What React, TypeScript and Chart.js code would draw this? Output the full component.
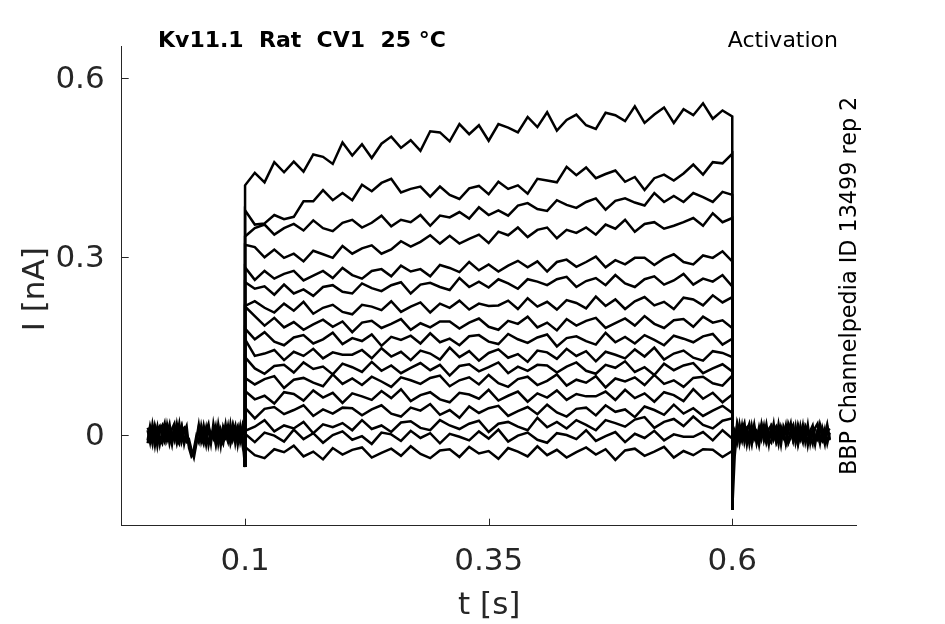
import { useRef, useEffect } from "react";
import { Chart, registerables } from "chart.js";

Chart.register(...registerables);

// Axis ticks
const xTicks = [0.1, 0.35, 0.6];
const yTicks = [0, 0.3, 0.6];

// Sample times (s)
const preTimes = [
  0, 0.0025, 0.005, 0.0075, 0.01, 0.0125, 0.015, 0.0175, 0.02, 0.0225, 0.025, 0.0275, 0.03, 0.0325,
  0.035, 0.0375, 0.04, 0.0425, 0.045, 0.0475, 0.05, 0.0525, 0.055, 0.0575, 0.06, 0.0625, 0.065,
  0.0675, 0.07, 0.0725, 0.075, 0.0775, 0.08, 0.0825, 0.085, 0.0875, 0.09, 0.0925, 0.095, 0.0975, 0.1,
];
const stepTimes = [
  0.1, 0.11, 0.12, 0.13, 0.14, 0.15, 0.16, 0.17, 0.18, 0.19, 0.2, 0.21, 0.22, 0.23, 0.24, 0.25, 0.26,
  0.27, 0.28, 0.29, 0.3, 0.31, 0.32, 0.33, 0.34, 0.35, 0.36, 0.37, 0.38, 0.39, 0.4, 0.41, 0.42, 0.43,
  0.44, 0.45, 0.46, 0.47, 0.48, 0.49, 0.5, 0.51, 0.52, 0.53, 0.54, 0.55, 0.56, 0.57, 0.58, 0.59, 0.6,
];
const postTimes = [
  0.6, 0.6025, 0.605, 0.6075, 0.61, 0.6125, 0.615, 0.6175, 0.62, 0.6225, 0.625, 0.6275, 0.63, 0.6325,
  0.635, 0.6375, 0.64, 0.6425, 0.645, 0.6475, 0.65, 0.6525, 0.655, 0.6575, 0.66, 0.6625, 0.665,
  0.6675, 0.67, 0.6725, 0.675, 0.6775, 0.68, 0.6825, 0.685, 0.6875, 0.69, 0.6925, 0.695, 0.6975, 0.7,
];

// Currents in pA
const onsetDip = -54;
const offsetDip = -126;

const pre1 = [8, -12, 18, -5, 14, -15, 6, 20, -9, 3, -16, 12, -3, 19, -11, 5, 15, -22, -36, -30, -12, 9, -6, 16, -6, 11, -14, 19, -3, 8, -18, 14, 2, -11, 18, -8, 5, 15, -12, 6, 0];
const pre2 = [-9, 15, -3, 10, -18, 8, 16, -6, 12, -14, 4, -9, 18, -5, 13, -15, 3, -18, -30, -24, -2, -12, 15, -8, 12, -17, 3, -6, 14, -15, 9, -5, 18, -9, -2, 15, -14, 8, -5, 17, 0];
const pre3 = [12, 3, -15, 16, 0, -6, -14, 9, 2, 18, -8, 6, -14, 4, 16, -6, -12, -8, -25, -38, -15, 13, -3, -15, 5, 18, -9, 8, -16, 12, 2, -11, -6, 15, -14, 3, 16, -16, 10, -9, -54];
const pre4 = [-14, 6, 11, -17, 9, 15, -3, -12, 17, -5, 10, 19, -8, -15, 7, 12, -4, -14, -32, -26, -8, 17, -11, 6, -16, 14, -2, 10, -13, 18, -6, -15, 11, 4, -12, 16, -3, -9, 14, -17, 0];

const post1 = [-126, -35, 10, -8, 16, -12, 7, 19, -5, 12, -14, 4, 17, -9, 8, -16, 13, 2, -11, 18, -6, 10, -15, 6, 20, -8, 3, -13, 15, -4, 11, -17, 7, 16, -10, 5, -14, 12, -3, 17, -7];
const post2 = [-60, -18, 20, 4, -10, 14, -16, 6, -2, 18, -9, 13, -6, 15, -12, 5, -3, 19, -10, 8, -16, 14, 3, -11, 9, 17, -13, 5, -7, 16, -12, 8, -2, -15, 12, 19, -6, -11, 9, -14, 4];
const post3 = [-20, 5, -12, 18, -4, 9, 13, -14, 15, -7, 3, -17, 10, -2, 18, -8, -13, 7, 14, -5, 11, -3, 16, -14, -4, 10, -9, 17, 2, -12, 15, 6, -9, 4, -16, 9, 13, -5, -12, 6, 11];
const post4 = [-90, -10, 15, -14, 8, 20, -11, 3, -16, 12, 7, -9, 18, -4, -13, 10, 16, -7, 5, -15, 13, -1, -12, 19, 7, -10, 14, -16, 4, 9, -6, 17, -13, 11, -2, -8, 18, 3, -15, 13, -9];

const trace01 = [420, 441, 425, 459, 442, 460, 443, 472, 468, 456, 492, 470, 489, 466, 490, 502, 483, 496, 478, 511, 509, 494, 523, 506, 521, 495, 523, 517, 509, 535, 518, 543, 512, 530, 539, 521, 515, 542, 538, 528, 553, 525, 539, 551, 525, 548, 538, 558, 532, 546, 536];
const trace02 = [378, 354, 356, 370, 363, 367, 393, 393, 412, 395, 407, 395, 421, 410, 424, 431, 408, 414, 418, 401, 418, 404, 397, 415, 419, 405, 426, 414, 420, 406, 431, 428, 425, 451, 437, 450, 432, 439, 445, 426, 434, 412, 432, 438, 428, 440, 455, 438, 459, 457, 473];
const trace03 = [334, 348, 354, 337, 348, 355, 344, 361, 348, 343, 357, 362, 349, 357, 369, 351, 362, 358, 370, 352, 369, 366, 375, 364, 383, 370, 378, 369, 386, 390, 380, 377, 395, 387, 382, 392, 398, 379, 394, 398, 391, 386, 407, 392, 402, 392, 407, 400, 392, 409, 404];
const trace04 = [320, 316, 299, 312, 298, 305, 292, 310, 304, 298, 318, 305, 314, 319, 305, 312, 326, 317, 325, 336, 322, 335, 322, 330, 337, 323, 342, 336, 349, 333, 345, 349, 331, 345, 340, 349, 337, 354, 347, 362, 342, 355, 358, 347, 352, 358, 365, 352, 373, 358, 365];
const trace05 = [282, 261, 276, 263, 271, 276, 260, 268, 276, 264, 281, 269, 263, 276, 279, 267, 285, 275, 279, 267, 286, 281, 274, 291, 277, 287, 275, 285, 293, 282, 292, 275, 291, 295, 283, 291, 300, 282, 294, 287, 298, 298, 286, 297, 304, 291, 287, 302, 298, 309, 292];
const trace06 = [257, 246, 250, 236, 253, 238, 245, 234, 249, 252, 241, 238, 255, 247, 242, 252, 257, 238, 253, 256, 249, 244, 264, 249, 258, 248, 262, 255, 246, 262, 258, 252, 262, 266, 249, 259, 264, 252, 269, 255, 249, 262, 267, 253, 260, 271, 253, 263, 258, 269, 250];
const trace07 = [217, 225, 214, 206, 221, 209, 224, 204, 214, 219, 207, 203, 219, 216, 210, 225, 207, 216, 223, 206, 221, 214, 226, 211, 221, 217, 218, 226, 212, 230, 216, 224, 211, 227, 222, 213, 233, 217, 228, 212, 225, 232, 218, 224, 212, 231, 228, 218, 235, 223, 232];
const trace08 = [216, 200, 184, 197, 181, 190, 177, 186, 194, 182, 191, 173, 189, 192, 180, 187, 195, 177, 188, 181, 191, 191, 179, 189, 196, 182, 177, 192, 187, 199, 181, 189, 176, 195, 184, 192, 197, 180, 188, 196, 184, 200, 187, 180, 193, 195, 182, 199, 189, 193, 180];
const trace09 = [179, 161, 173, 157, 151, 164, 168, 154, 161, 172, 153, 163, 158, 169, 150, 165, 160, 167, 154, 171, 156, 162, 151, 166, 168, 157, 153, 170, 161, 155, 164, 169, 149, 163, 166, 158, 152, 172, 156, 165, 154, 168, 160, 151, 167, 162, 156, 166, 170, 152, 162];
const trace10 = [161, 133, 137, 143, 126, 140, 133, 145, 129, 139, 135, 135, 143, 129, 146, 132, 140, 126, 142, 137, 127, 147, 131, 141, 125, 138, 144, 130, 136, 123, 142, 139, 128, 145, 133, 141, 124, 140, 135, 129, 144, 132, 147, 127, 137, 142, 130, 125, 141, 138, 131];
const trace11 = [131, 112, 103, 116, 118, 105, 122, 111, 115, 102, 120, 114, 106, 123, 108, 117, 104, 113, 121, 109, 118, 100, 116, 119, 107, 114, 122, 104, 115, 108, 118, 117, 105, 115, 122, 108, 103, 118, 113, 124, 106, 114, 101, 120, 109, 117, 121, 104, 112, 119, 107];
const trace12 = [96, 85, 94, 99, 79, 93, 96, 88, 82, 102, 86, 95, 84, 98, 90, 81, 97, 92, 86, 96, 100, 82, 92, 97, 85, 101, 87, 81, 94, 98, 84, 91, 102, 83, 93, 88, 99, 80, 95, 90, 97, 84, 101, 86, 92, 81, 96, 98, 87, 83, 100];
const trace13 = [74, 60, 66, 53, 72, 69, 58, 75, 63, 71, 54, 70, 65, 59, 74, 62, 77, 57, 67, 72, 60, 55, 71, 68, 61, 76, 58, 66, 73, 56, 70, 63, 75, 59, 69, 65, 65, 73, 59, 76, 62, 70, 56, 72, 67, 57, 77, 61, 71, 55, 68];
const trace14 = [46, 28, 44, 47, 35, 42, 50, 32, 43, 36, 46, 45, 33, 43, 50, 36, 31, 46, 41, 52, 34, 42, 29, 48, 37, 45, 49, 32, 40, 47, 35, 51, 38, 31, 44, 46, 33, 50, 39, 43, 30, 48, 42, 34, 51, 36, 45, 32, 41, 49, 37];
const trace15 = [7, 14, 25, 6, 16, 11, 22, 3, 18, 13, 20, 8, 25, 10, 16, 5, 21, 23, 12, 8, 25, 16, 10, 19, 24, 5, 19, 22, 14, 8, 29, 13, 22, 11, 25, 17, 8, 25, 20, 14, 26, 30, 12, 22, 27, 15, 31, 17, 11, 24, 28];
const trace16 = [2, -12, 4, -1, -11, 9, -7, 3, -13, 0, 6, -8, -2, -15, 4, 1, -10, 7, -5, 3, -14, 2, -3, -9, 6, -6, 9, -11, -1, 4, -8, -13, 3, 0, -7, 8, -10, -2, 5, -12, 2, -5, 7, -9, 1, -3, -3, 5, -9, 8, -6];
const trace17 = [-20, -34, -39, -24, -29, -18, -36, -28, -41, -22, -33, -25, -21, -38, -30, -23, -35, -19, -32, -39, -26, -24, -37, -20, -31, -27, -40, -22, -28, -36, -19, -34, -25, -38, -29, -21, -33, -24, -42, -26, -23, -35, -28, -20, -38, -27, -34, -24, -25, -37, -27];

const steps = [
  trace01, trace02, trace03, trace04, trace05, trace06, trace07, trace08, trace09,
  trace10, trace11, trace12, trace13, trace14, trace15, trace16, trace17,
];
const preRuns = [pre1, pre2, pre3, pre4];
const postRuns = [post1, post2, post3, post4];

// Styles
const AXIS = "#262626";
const FONT = '"DejaVu Sans", sans-serif';

function toPoints(times: number[], values: number[]) {
  return times.map((t, i) => ({ x: t, y: values[i] / 1000 }));
}

const decor = {
  id: "decor",
  afterDraw(chart: Chart) {
    const { ctx, chartArea, scales } = chart;
    const x = scales.x;
    const y = scales.y;
    ctx.save();

    // Inward tick marks
    ctx.strokeStyle = AXIS;
    ctx.lineWidth = 1;
    ctx.beginPath();
    for (const v of xTicks) {
      const px = Math.round(x.getPixelForValue(v)) + 0.5;
      ctx.moveTo(px, chartArea.bottom);
      ctx.lineTo(px, chartArea.bottom - 7);
    }
    for (const v of yTicks) {
      const py = Math.round(y.getPixelForValue(v)) + 0.5;
      ctx.moveTo(chartArea.left, py);
      ctx.lineTo(chartArea.left + 7, py);
    }
    ctx.stroke();

    // Title and annotations
    ctx.fillStyle = "#000";
    ctx.textBaseline = "alphabetic";
    ctx.font = `bold 22px ${FONT}`;
    ctx.textAlign = "left";
    ctx.fillText("Kv11.1  Rat  CV1  25 °C", 158, 46.5);

    ctx.font = `22px ${FONT}`;
    ctx.textAlign = "right";
    ctx.fillText("Activation", 838, 46.5);

    ctx.save();
    ctx.translate(856, 475);
    ctx.rotate(-Math.PI / 2);
    ctx.textAlign = "left";
    ctx.font = `22.3px ${FONT}`;
    ctx.fillText("BBP Channelpedia ID 13499 rep 2", 0, 0);
    ctx.restore();

    // Axis titles
    ctx.fillStyle = AXIS;
    ctx.font = `31px ${FONT}`;
    ctx.textAlign = "center";
    ctx.fillText("t [s]", (chartArea.left + chartArea.right) / 2, 614);

    ctx.save();
    ctx.translate(44, (chartArea.top + chartArea.bottom) / 2 + 3);
    ctx.rotate(-Math.PI / 2);
    ctx.fillText("I [nA]", 0, 0);
    ctx.restore();

    ctx.restore();
  },
};

export default function App() {
  const canvasRef = useRef<HTMLCanvasElement | null>(null);
  const chartRef = useRef<Chart | null>(null);

  useEffect(() => {
    if (chartRef.current) {
      chartRef.current.destroy();
      chartRef.current = null;
    }
    const canvas = canvasRef.current;
    if (!canvas) return;

    const line = { borderColor: "#000", borderWidth: 2.5, pointRadius: 0, tension: 0, fill: false };
    const datasets = [
      ...preRuns.map((r) => ({ ...line, data: toPoints(preTimes, r) })),
      ...steps.map((s) => ({
        ...line,
        data: [
          { x: 0.1, y: onsetDip / 1000 },
          ...toPoints(stepTimes, s),
          { x: 0.6, y: offsetDip / 1000 },
        ],
      })),
      ...postRuns.map((r) => ({ ...line, data: toPoints(postTimes, r) })),
    ];

    chartRef.current = new Chart(canvas, {
      type: "line",
      data: { datasets },
      options: {
        animation: false,
        responsive: true,
        maintainAspectRatio: false,
        layout: { padding: { top: 46.7, right: 88.3, left: 0, bottom: 0 } },
        plugins: {
          legend: { display: false },
          tooltip: { enabled: false },
          title: { display: false },
        },
        scales: {
          x: {
            type: "linear",
            min: -0.0266,
            max: 0.7277,
            grid: { display: false, drawTicks: false },
            border: { display: true, color: AXIS, width: 1 },
            afterBuildTicks: (scale) => {
              scale.ticks = xTicks.map((v) => ({ value: v }));
            },
            afterFit: (scale) => {
              scale.height = 98.3;
            },
            ticks: {
              padding: 18,
              maxRotation: 0,
              color: AXIS,
              font: { family: FONT, size: 31 },
              callback: (v) => String(v),
            },
          },
          y: {
            type: "linear",
            min: -0.1526,
            max: 0.6532,
            grid: { display: false, drawTicks: false },
            border: { display: true, color: AXIS, width: 1 },
            afterBuildTicks: (scale) => {
              scale.ticks = yTicks.map((v) => ({ value: v }));
            },
            afterFit: (scale) => {
              scale.width = 121.7;
            },
            ticks: {
              padding: 17,
              labelOffset: 2,
              color: AXIS,
              font: { family: FONT, size: 31 },
              callback: (v) => String(v),
            },
          },
        },
      },
      plugins: [decor],
    });

    return () => {
      chartRef.current?.destroy();
      chartRef.current = null;
    };
  }, []);

  return (
    <div style={{ position: "absolute", left: 0, top: 0, width: 945, height: 624, background: "#fff" }}>
      <canvas ref={canvasRef} />
    </div>
  );
}
